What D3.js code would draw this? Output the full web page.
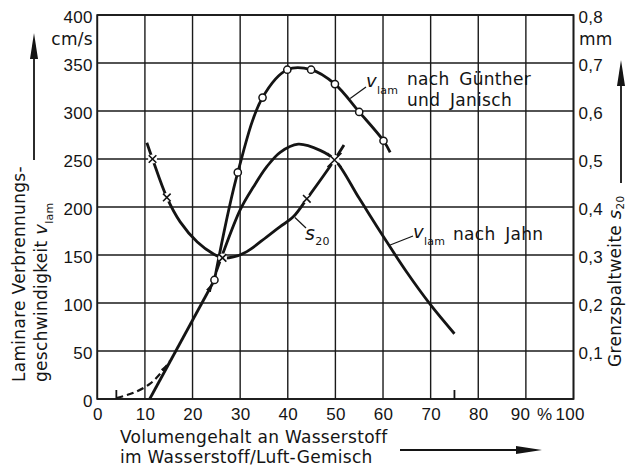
<!DOCTYPE html>
<html>
<head>
<meta charset="utf-8">
<script src="https://cdn.jsdelivr.net/npm/d3@7"></script>
<style>
  body { margin: 0; background: #fff; }
  svg { display: block; font-family: "DejaVu Sans", sans-serif; }
  .frame { fill: none; stroke: #1a1a1a; stroke-width: 1.8; }
  .curve { fill: none; stroke: #141414; stroke-width: 2.8; }
  .dashed { fill: none; stroke: #141414; stroke-width: 2.2; stroke-dasharray: 7 4; }
  .lbl { fill: #141414; font-size: 17px; letter-spacing: 0.3px; }
  .lead { stroke: #141414; stroke-width: 1.2; fill: none; }
</style>
</head>
<body>
<div id="chart"></div>
<script>

// axis ticks
var xTicks = [0, 10, 20, 30, 40, 50, 60, 70, 80, 90, 100];
var xTickLabels = ["0", "10", "20", "30", "40", "50", "60", "70", "80", "90", "100"];
var vTicks = [0, 50, 100, 150, 200, 250, 300, 350, 400];
var sTicks = [0.1, 0.2, 0.3, 0.4, 0.5, 0.6, 0.7, 0.8];
var sTickLabels = ["0,1", "0,2", "0,3", "0,4", "0,5", "0,6", "0,7", "0,8"];

// v_lam [% H2, cm/s]
var baseLine = [[11, 0], [24.6, 124]];
var dashedLine = [[4, 1], [7.6, 6.5], [11.1, 16], [13.5, 28], [15.3, 40]];
var guentherPts = [[24.6, 124], [29.5, 236], [34.7, 314], [39.9, 343], [44.9, 343], [49.9, 328], [55, 299], [60.1, 269]];
var guentherTail = [[61.5, 257]];
var jahnCurve = [[25.0, 133], [26.1, 148], [30, 197], [32.8, 221], [35.6, 242], [38.4, 257], [42.2, 265.5],
                 [46.8, 259], [49.9, 249], [55, 209], [60.1, 169], [65, 132], [70, 98], [75, 68]];

// s20 [% H2, mm]
var s20Curve = [[10.4, 0.534], [11.6, 0.50], [14.6, 0.42], [17.4, 0.369], [21, 0.327], [24.4, 0.302], [26.3, 0.294],
                [28.6, 0.296], [31.4, 0.307], [35.6, 0.338], [38.4, 0.359], [41.2, 0.38], [44, 0.417], [49.8, 0.498], [51.8, 0.529]];
var s20Marks = [[11.6, 0.50], [14.6, 0.42], [26.3, 0.294], [44, 0.417], [49.8, 0.498]];

// Zündgrenzen
var limits = [4, 75];

/////////////////////////////////////////////////////////////////////

function make_chart() {
  var W = 628, H = 474;
  var svg = d3.select("#chart").append("svg")
      .attr("width", W)
      .attr("height", H);

  var x = d3.scaleLinear().domain([0, 100]).range([97.3, 573.5]);
  var y = d3.scaleLinear().domain([0, 400]).range([399, 15]);
  var y2 = d3.scaleLinear().domain([0, 0.8]).range([399, 15]);

  var plotW = x(100) - x(0);
  var plotH = y(0) - y(400);

  // Grid
  svg.selectAll(".vg").data(xTicks).enter().append("line")
      .attr("x1", function(d) { return x(d); }).attr("x2", function(d) { return x(d); })
      .attr("y1", y(0)).attr("y2", y(400))
      .attr("stroke", "#1a1a1a").attr("stroke-width", 1.4);
  svg.selectAll(".hg").data(vTicks).enter().append("line")
      .attr("x1", x(0)).attr("x2", x(100))
      .attr("y1", function(d) { return y(d); }).attr("y2", function(d) { return y(d); })
      .attr("stroke", "#1a1a1a").attr("stroke-width", 1.4);

  // tick labels
  var gx = svg.append("g")
      .attr("transform", "translate(0," + y(0) + ")")
      .call(d3.axisBottom(x).tickValues(xTicks).tickSize(0).tickPadding(9)
            .tickFormat(function(d, i) { return xTickLabels[i]; }));
  gx.select(".domain").remove();
  gx.selectAll("text").attr("class", "lbl").attr("font-size", null).attr("font-family", null);
  gx.selectAll(".tick").filter(function(d) { return d == 90; }).select("text").attr("dx", -6);
  gx.selectAll(".tick").filter(function(d) { return d == 100; }).select("text").attr("dx", -4);
  gx.append("text")
      .attr("class", "lbl")
      .attr("x", (x(90) + x(100)) / 2 - 5)
      .attr("y", 9)
      .attr("dy", "0.71em")
      .attr("text-anchor", "middle")
      .text("%");

  var gy = svg.append("g")
      .attr("transform", "translate(" + x(0) + ",0)")
      .call(d3.axisLeft(y).tickValues(vTicks).tickSize(0).tickPadding(4.5));
  gy.select(".domain").remove();
  gy.selectAll("text").attr("class", "lbl").attr("font-family", null).attr("dy", "0.42em");

  var gy2 = svg.append("g")
      .attr("transform", "translate(" + x(100) + ",0)")
      .call(d3.axisRight(y2).tickValues(sTicks).tickSize(0).tickPadding(5)
            .tickFormat(function(d, i) { return sTickLabels[i]; }));
  gy2.select(".domain").remove();
  gy2.selectAll("text").attr("class", "lbl").attr("font-family", null).attr("dy", "0.42em");

  // units
  svg.append("text").attr("class", "lbl").attr("x", 93).attr("y", 45)
      .attr("text-anchor", "end").text("cm/s");
  svg.append("text").attr("class", "lbl").attr("x", 579).attr("y", 45).text("mm");

  svg.append("rect").attr("class", "frame")
      .attr("x", x(0)).attr("y", y(400))
      .attr("width", plotW).attr("height", plotH);

  // limit ticks on x axis
  svg.selectAll(".limit").data(limits).enter().append("line")
      .attr("x1", function(d) { return x(d); }).attr("x2", function(d) { return x(d); })
      .attr("y1", y(0)).attr("y2", y(0) - 9)
      .attr("stroke", "#141414").attr("stroke-width", 1.8);

  // arrow marker
  svg.append("defs").append("marker")
      .attr("id", "ah")
      .attr("viewBox", "0 -3 10 6")
      .attr("refX", 14).attr("refY", 0)
      .attr("markerUnits", "userSpaceOnUse")
      .attr("markerWidth", 9).attr("markerHeight", 6)
      .attr("orient", "auto")
      .append("path").attr("d", "M0,-3L10,0L0,3Z").attr("fill", "#141414");

  var lineV = d3.line().x(function(d) { return x(d[0]); }).y(function(d) { return y(d[1]); });
  var smoothV = d3.line().x(function(d) { return x(d[0]); }).y(function(d) { return y(d[1]); })
      .curve(d3.curveCatmullRom.alpha(0.5));
  var smoothS = d3.line().x(function(d) { return x(d[0]); }).y(function(d) { return y2(d[1]); })
      .curve(d3.curveCatmullRom.alpha(0.5));

  svg.append("path").attr("class", "dashed").attr("d", smoothV(dashedLine)).attr("marker-end", "url(#ah)");
  svg.append("path").attr("class", "curve").attr("d", lineV(baseLine)).attr("marker-end", "url(#ah)");
  svg.append("path").attr("class", "curve").attr("d", smoothV(guentherPts.concat(guentherTail)));
  svg.append("path").attr("class", "curve").attr("d", smoothV(jahnCurve));
  svg.append("path").attr("class", "curve").attr("d", smoothS(s20Curve));

  // s20 crosses
  var marks = svg.selectAll(".mark").data(s20Marks).enter().append("g")
      .attr("transform", function(d) { return "translate(" + x(d[0]) + "," + y2(d[1]) + ")"; });
  marks.append("circle").attr("r", function(d, i) { return i == s20Marks.length - 1 ? 5 : 4.5; }).attr("fill", "#fff");
  marks.append("path")
      .attr("d", function(d, i) {
        var a = i == s20Marks.length - 1 ? 7 : 3.8;
        return "M" + (-a) + "," + (-a) + "L" + a + "," + a + "M" + (-a) + "," + a + "L" + a + "," + (-a);
      })
      .attr("stroke", "#141414").attr("stroke-width", 1.6);

  // Guenther circles
  svg.selectAll(".gpt").data(guentherPts).enter().append("circle")
      .attr("cx", function(d) { return x(d[0]); })
      .attr("cy", function(d) { return y(d[1]); })
      .attr("r", 3.6)
      .attr("fill", "#fff").attr("stroke", "#141414").attr("stroke-width", 1.5);

  // labels with leader lines
  function vlam(px, py) {
    var t = svg.append("text").attr("class", "lbl").attr("x", px).attr("y", py);
    t.append("tspan").attr("font-style", "italic").attr("font-size", 18).text("v");
    t.append("tspan").attr("font-size", 11).attr("dy", 7).text("lam");
  }

  svg.append("path").attr("class", "lead")
      .attr("d", "M" + x(53.1) + "," + y(313) + "L" + 366 + "," + 87);
  vlam(366, 87);
  svg.append("text").attr("class", "lbl").attr("x", 407).attr("y", 85).attr("word-spacing", 4).text("nach Günther");
  svg.append("text").attr("class", "lbl").attr("x", 407).attr("y", 106).attr("word-spacing", 4).text("und Janisch");

  svg.append("path").attr("class", "lead")
      .attr("d", "M" + x(61.5) + "," + y(160.4) + "L" + 413 + "," + 236);
  vlam(413, 238);
  svg.append("text").attr("class", "lbl").attr("x", 453).attr("y", 240).attr("word-spacing", 4).text("nach Jahn");

  svg.append("path").attr("class", "lead")
      .attr("d", "M" + x(41.5) + "," + y2(0.378) + "L" + 306 + "," + 228);
  var st = svg.append("text").attr("class", "lbl").attr("x", 305).attr("y", 240);
  st.append("tspan").attr("font-style", "italic").attr("font-size", 19).text("s");
  st.append("tspan").attr("font-size", 11).attr("dy", 5).text("20");

  // axis titles
  svg.append("text").attr("class", "lbl")
      .attr("transform", "translate(25,382) rotate(-90)")
      .text("Laminare Verbrennungs-");
  var lt2 = svg.append("text").attr("class", "lbl")
      .attr("transform", "translate(46.5,382) rotate(-90)");
  lt2.append("tspan").text("geschwindigkeit ");
  lt2.append("tspan").attr("font-style", "italic").attr("font-size", 18).text("v");
  lt2.append("tspan").attr("font-size", 11).attr("dy", 6).text("lam");

  var rt = svg.append("text").attr("class", "lbl")
      .attr("transform", "translate(620.5,367) rotate(-90)");
  rt.append("tspan").text("Grenzspaltweite ");
  rt.append("tspan").attr("font-style", "italic").attr("font-size", 18).text("s");
  rt.append("tspan").attr("font-size", 10.5).attr("dy", 3).text("20");

  svg.append("text").attr("class", "lbl").attr("x", 120).attr("y", 443).attr("letter-spacing", 0.55).text("Volumengehalt an Wasserstoff");
  svg.append("text").attr("class", "lbl").attr("x", 120).attr("y", 463).attr("letter-spacing", 0.55).text("im Wasserstoff/Luft-Gemisch");

  // direction arrows
  function arrow(x1, y1, x2, y2) {
    var ang = Math.atan2(y2 - y1, x2 - x1);
    var len = 26, hw = 4;
    var bx = x2 - len * Math.cos(ang), by = y2 - len * Math.sin(ang);
    svg.append("line").attr("x1", x1).attr("y1", y1).attr("x2", bx).attr("y2", by)
        .attr("stroke", "#141414").attr("stroke-width", 1.8);
    svg.append("path")
        .attr("d", "M" + x2 + "," + y2 +
                   "L" + (bx + hw * Math.sin(ang)) + "," + (by - hw * Math.cos(ang)) +
                   "L" + (bx - hw * Math.sin(ang)) + "," + (by + hw * Math.cos(ang)) + "Z")
        .attr("fill", "#141414");
  }
  arrow(34, 160, 34, 33);
  arrow(621, 183, 621, 60);
  arrow(400, 450, 542, 450);
}

make_chart();

</script>
</body>
</html>
